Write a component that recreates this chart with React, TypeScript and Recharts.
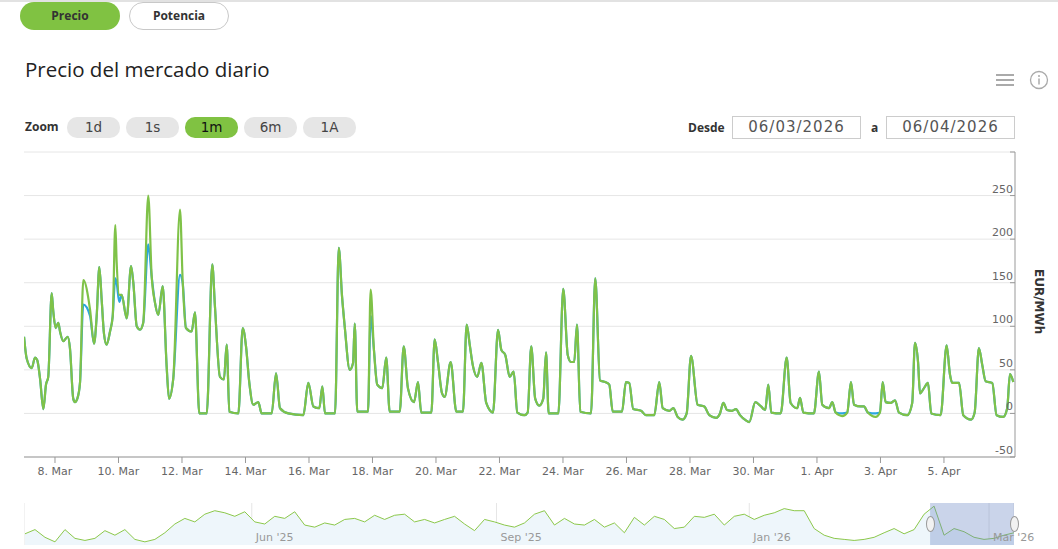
import React from "react";
import {
  LineChart,
  Line,
  XAxis,
  YAxis,
  CartesianGrid,
  AreaChart,
  Area,
  ReferenceArea
} from "recharts";

// Precio del mercado diario, hours counted from 07/03/2026 00:00 -> EUR/MWh
const marketPrice: [number, number][] = [
  [0.6, 88], [2.6, 63], [6.4, 52], [8.9, 64], [10.6, 61], [12.7, 40], [15.2, 5], [17.2, 33],
  [18.9, 42], [21.5, 138], [22.7, 117], [24.5, 98], [26.5, 104], [27.8, 94], [30.3, 83], [33.6, 88],
  [35.3, 75], [37.8, 17], [39.1, 13], [40.9, 17], [42.9, 35], [45.4, 153], [50.5, 119], [53.5, 80],
  [55.5, 111], [57.5, 168], [59.3, 130], [61, 92], [63, 79], [65.6, 94], [67.6, 111], [69.6, 216],
  [70.6, 174], [72.6, 136], [74.4, 136], [78.2, 109], [81.5, 169], [83.2, 150], [85.8, 100], [88.3, 96],
  [90.7, 104], [94.5, 250], [97.1, 157], [99.6, 127], [102.1, 113], [105.4, 146], [108.4, 54], [110.2, 17],
  [113.4, 40], [118.5, 234], [120.5, 153], [123, 98], [127.3, 94], [129.8, 116], [133.1, 0], [138.7, 0],
  [142.9, 171], [144.9, 123], [148.7, 42], [151.7, 39], [153.8, 79], [155.8, 2], [162.6, 0], [165.9, 98],
  [168.4, 77], [170.9, 35], [173.9, 10], [177.7, 13], [180.2, 0], [187.8, 0], [191.1, 46], [194.1, 6],
  [200.4, 0], [211.7, -2], [215.5, 35], [219.3, 8], [223.8, 6], [226.1, 31], [228.1, 0], [235.7, 0],
  [238.5, 190], [241, 134], [243, 100], [246.8, 50], [249.3, 58], [250.6, 103], [252.5, 2], [260.6, 2],
  [262.6, 142], [265.1, 73], [267.6, 33], [271.4, 29], [274.4, 64], [277, 2], [284.6, 2], [287.6, 77],
  [290.8, 29], [295.4, 13], [298.4, 36], [300.9, 1], [308.5, 1], [311, 85], [313.5, 59], [316.6, 23],
  [318.6, 19], [323.1, 59], [327.4, 2], [332.4, 2], [335.2, 102], [337.5, 79], [340, 54], [343.2, 42],
  [346.3, 58], [350, 12], [355.1, 1], [358.9, 96], [361.4, 73], [364.4, 67], [367.7, 42], [370.7, 48],
  [373.5, 1], [378.8, -2], [381.3, 1], [384, 77], [387, 17], [390.1, 9], [393.1, 17], [395.2, 70],
  [397.2, 0], [404.5, 0], [408.2, 143], [411.6, 67], [414, 59], [416.5, 59], [418.6, 102], [421.1, 2],
  [429.2, 0], [432.4, 155], [436, 38], [440, 36], [443, 33], [445.6, 2], [452.6, 2], [455.6, 36],
  [458.1, 35], [461.1, 5], [467, 3], [470.7, -2], [477, -2], [480.8, 36], [483.4, 6], [488.4, 3],
  [491.4, 6], [494.7, -4], [498.5, -7], [501.5, 0], [504.8, 66], [509.8, 10], [514.8, 8], [518.6, -2],
  [523.7, -5], [526.7, 0], [529.2, 12], [532, 4], [535.8, 3], [538.8, 5], [541.8, -2], [546.3, -8],
  [548.8, -10], [553.4, 13], [557.7, 8], [560.9, 4], [563.2, 33], [565.5, 1], [572.6, 0], [577.1, 64],
  [580.1, 12], [585.1, 6], [587.2, 18], [589.7, 1], [597.7, 0], [601.5, 48], [604, 10], [609.1, 6],
  [611.6, 13], [614.1, 1], [619.1, -3], [622.9, 1], [625.7, 36], [628, 10], [633, 8], [635.5, 8],
  [638.5, 1], [644.4, -4], [647.6, 1], [649.7, 36], [651.9, 13], [655.7, 12], [659, 15], [662, 1],
  [668.3, -2], [672, 12], [674.1, 81], [676.4, 59], [677.9, 23], [680.9, 29], [683.9, 35], [686.4, 0],
  [693.5, -2], [698, 78], [700.5, 45], [702.3, 35], [707.4, 35], [710.6, -2], [716.6, -7], [719.2, 1],
  [722.4, 75], [724.9, 56], [727.5, 37], [732.5, 35], [735.8, -2], [740.8, -4], [743.8, 6], [745.9, 45],
  [748.4, 36]
];

// second (blue) series: same as the green one except at these hours
const otherPrice: [number, number][] = [
  [45.4, 125], [50.5, 112], [69.6, 155], [70.6, 150], [72.6, 128], [94.5, 194],
  [118.5, 159], [120.5, 150], [262.6, 112], [619.1, 0], [644.4, 0]
];

const yTicks = [-50, 0, 50, 100, 150, 200, 250, 300];
const xTickHours = [24, 72, 120, 168, 216, 264, 312, 360, 408, 456, 504, 552, 600, 648, 696];
const xTickLabels = [
  "8. Mar", "10. Mar", "12. Mar", "14. Mar", "16. Mar", "18. Mar", "20. Mar", "22. Mar",
  "24. Mar", "26. Mar", "28. Mar", "30. Mar", "1. Apr", "3. Apr", "5. Apr"
];

// navigator, one year of prices
const navigatorPrice = [
  32, 44, 22, 9, 44, 19, 13, 19, 41, 28, 44, 16, 9, 16, 35, 60, 76, 66, 88, 98,
  92, 82, 95, 66, 60, 82, 76, 95, 57, 51, 63, 57, 73, 76, 66, 85, 73, 85, 88, 66,
  73, 63, 73, 82, 60, 41, 73, 66, 57, 51, 63, 88, 98, 57, 76, 60, 57, 73, 51, 63,
  35, 79, 57, 82, 73, 47, 51, 82, 79, 88, 57, 82, 88, 73, 85, 92, 104, 98, 98, 47,
  28, 19, 16, 13, 16, 22, 35, 47, 32, 44, 88, 111, 28, 47, 38, 22, 16, 19, 28, 35
];
const navTickIndex = [22.7, 47.2, 72.5, 96.5];
const navTickLabels = ["Jun '25", "Sep '25", "Jan '26", "Mar '26"];
const navSelection = [90.6, 99];

const GREEN = "#7fc248";
const BLUE = "#2ba6de";
const NAV_DOMAIN = [-0.1, 99];

const PriceTick = (props: any) => {
  const { x, y, payload } = props;
  return (
    <g>
      <line x1={x - 5} x2={x} y1={y} y2={y} stroke="#999" />
      {payload.value !== 300 && (
        <text x={x - 2} y={y - 3} textAnchor="end" fill="#666" fontSize={11} fontFamily="DejaVu Sans">
          {payload.value}
        </text>
      )}
    </g>
  );
};

const zoomButtons = ["1d", "1s", "1m", "6m", "1A"];

export default function App() {
  const rows = marketPrice.map(([h, v]) => {
    const o = otherPrice.find(p => p[0] === h);
    return { h, precio: v, otro: o ? o[1] : v };
  });
  const navRows = navigatorPrice.map((v, i) => ({ i, v }));
  const navX = (i: number) => 24 + (i - NAV_DOMAIN[0]) / (NAV_DOMAIN[1] - NAV_DOMAIN[0]) * 990;

  return (
    <div style={{ position: "relative", width: 1058, height: 549, overflow: "hidden", background: "#fff", fontFamily: "'Open Sans', sans-serif" }}>
      <style>{"body{margin:0}"}</style>

      {/* top border */}
      <div style={{ position: "absolute", left: 0, top: 0, width: 1058, height: 2, background: "#e2e2e2" }} />

      {/* Precio / Potencia */}
      <div style={{ position: "absolute", left: 20, top: 2, width: 100, height: 28, borderRadius: 14, background: "#80c242", fontSize: 12, fontWeight: 700, color: "#333", textAlign: "center", lineHeight: "28px" }}>
        Precio
      </div>
      <div style={{ position: "absolute", left: 129, top: 2, width: 98, height: 26, borderRadius: 14, border: "1px solid #c8c8c8", background: "#fff", fontSize: 12, fontWeight: 700, color: "#333", textAlign: "center", lineHeight: "26px" }}>
        Potencia
      </div>

      <div style={{ position: "absolute", left: 25, top: 55, fontSize: 20.5, color: "#222", whiteSpace: "nowrap" }}>
        Precio del mercado diario
      </div>

      {/* menu + info icons */}
      <svg style={{ position: "absolute", left: 990, top: 68 }} width={62} height={26}>
        <line x1={6} x2={24} y1={7} y2={7} stroke="#aaa" strokeWidth={2} />
        <line x1={6} x2={24} y1={12} y2={12} stroke="#aaa" strokeWidth={2} />
        <line x1={6} x2={24} y1={17} y2={17} stroke="#aaa" strokeWidth={2} />
        <circle cx={49} cy={12} r={8.5} fill="none" stroke="#aaa" strokeWidth={1.3} />
        <circle cx={49} cy={8} r={1} fill="#aaa" />
        <line x1={49} x2={49} y1={10.5} y2={16.5} stroke="#aaa" strokeWidth={1.5} />
      </svg>

      {/* zoom buttons */}
      <div style={{ position: "absolute", left: 25, top: 118, fontSize: 12, fontWeight: 700, color: "#333" }}>Zoom</div>
      {zoomButtons.map((b, k) => (
        <div key={b} style={{
          position: "absolute", left: 67 + k * 59, top: 117, width: 53, height: 21, borderRadius: 10,
          background: b === "1m" ? "#80c242" : "#e6e6e6", textAlign: "center", lineHeight: "21px",
          fontFamily: "DejaVu Sans", fontSize: 13.5, color: b === "1m" ? "#111" : "#444"
        }}>{b}</div>
      ))}

      {/* date range */}
      <div style={{ position: "absolute", left: 688, top: 119, fontSize: 12, fontWeight: 700, color: "#333" }}>Desde</div>
      <div style={{ position: "absolute", left: 732, top: 116, width: 127, height: 21, border: "1px solid #ccc", fontFamily: "DejaVu Sans", fontSize: 15, letterSpacing: 1, color: "#555", textAlign: "center", lineHeight: "21px" }}>06/03/2026</div>
      <div style={{ position: "absolute", left: 871, top: 119, fontSize: 12, fontWeight: 700, color: "#333" }}>a</div>
      <div style={{ position: "absolute", left: 886, top: 116, width: 127, height: 21, border: "1px solid #ccc", fontFamily: "DejaVu Sans", fontSize: 15, letterSpacing: 1, color: "#555", textAlign: "center", lineHeight: "21px" }}>06/04/2026</div>

      {/* main chart */}
      <div style={{ position: "absolute", left: 0, top: 0 }}>
        <LineChart width={1058} height={549} data={rows} margin={{ top: 152, right: 3, bottom: 72, left: 24 }}>
          <CartesianGrid horizontal vertical={false} stroke="#e6e6e6" />
          <XAxis
            dataKey="h"
            type="number"
            domain={[0.57, 749.7]}
            allowDataOverflow
            ticks={xTickHours}
            tickFormatter={(v: number) => xTickLabels[xTickHours.indexOf(v)]}
            height={20}
            tickSize={6}
            tickMargin={4}
            stroke="#999"
            tick={{ fill: "#666", fontSize: 11, fontFamily: "DejaVu Sans" }}
            interval={0}
          />
          <YAxis
            orientation="right"
            width={40}
            domain={[-50, 300]}
            ticks={yTicks}
            interval={0}
            tickSize={0}
            tickMargin={0}
            tickLine={false}
            stroke="#999"
            tick={<PriceTick />}
          />
          <Line type="monotone" dataKey="otro" stroke={BLUE} strokeWidth={2.2} dot={false} isAnimationActive={false} />
          <Line type="monotone" dataKey="precio" stroke={GREEN} strokeWidth={2.2} dot={false} isAnimationActive={false} />
        </LineChart>
      </div>

      <div style={{ position: "absolute", left: 1046, top: 269, transform: "rotate(90deg)", transformOrigin: "0 0", fontSize: 12, fontWeight: 700, color: "#333", whiteSpace: "nowrap", fontFamily: "DejaVu Sans" }}>
        EUR/MWh
      </div>

      {/* navigator */}
      <div style={{ position: "absolute", left: 24, top: 503 }}>
        <AreaChart width={990} height={42} data={navRows} margin={{ top: 0, right: 0, bottom: 0, left: 0 }}>
          <CartesianGrid horizontal={false} vertical stroke="#e6e6e6" />
          <XAxis dataKey="i" type="number" domain={NAV_DOMAIN} ticks={navTickIndex} interval={0} hide />
          <YAxis hide domain={[0, 120]} />
          <Area type="linear" dataKey="v" stroke="#8cc84b" strokeWidth={1} fill="#eef6fb" fillOpacity={1} isAnimationActive={false} />
          <ReferenceArea x1={navSelection[0]} x2={navSelection[1]} y1={0} y2={120} fill="#6685c2" fillOpacity={0.35} stroke="none" ifOverflow="visible" />
        </AreaChart>
      </div>
      {navTickIndex.map((t, k) => (
        <div key={t} style={{ position: "absolute", left: navX(t) + 4, top: 531, fontSize: 11, color: "#999", fontFamily: "DejaVu Sans", whiteSpace: "nowrap" }}>
          {navTickLabels[k]}
        </div>
      ))}
      {/* handles */}
      {navSelection.map((s, k) => (
        <div key={k} style={{ position: "absolute", left: navX(s) - 4, top: 516, width: 7, height: 14, borderRadius: "50%", border: "1px solid #999", background: "#f2f2f2" }} />
      ))}
    </div>
  );
}
